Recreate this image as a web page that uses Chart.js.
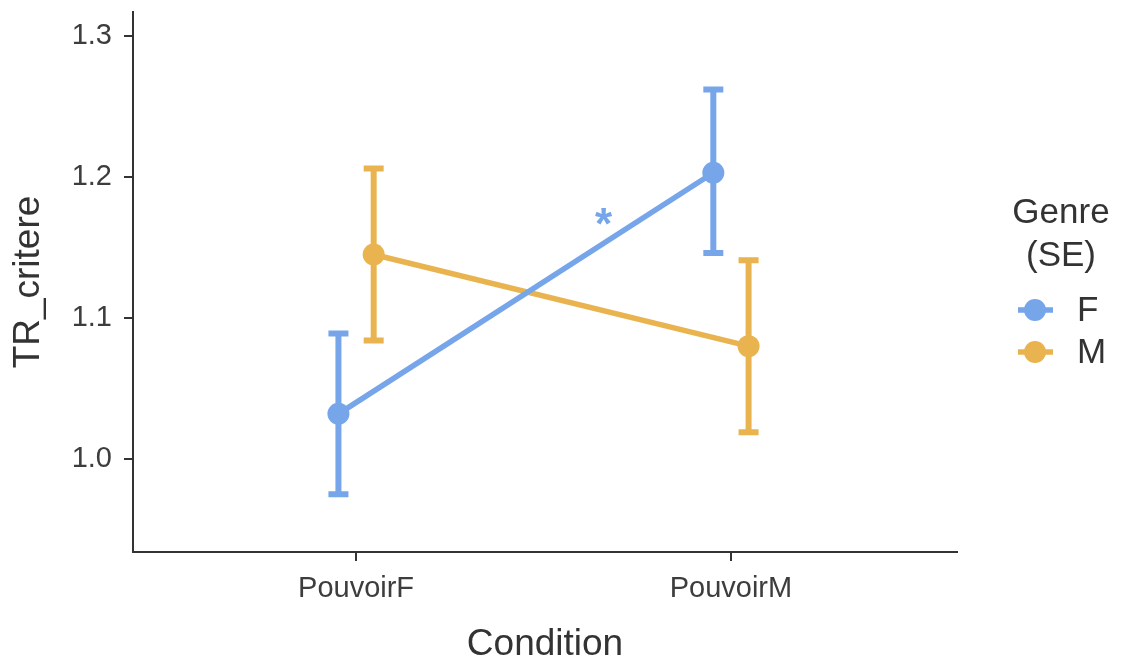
<!DOCTYPE html>
<html>
<head>
<meta charset="utf-8">
<script src="https://cdn.jsdelivr.net/npm/chart.js@4.4.0/dist/chart.umd.min.js"></script>
<style>
  html, body { margin: 0; padding: 0; background: #fff; }
  #wrap { width: 1129px; height: 662px; position: relative; }
</style>
</head>
<body>
<div id="wrap"><canvas id="canvas-1" width="1129" height="662"></canvas></div>
<script>
// data
var conditions = ['PouvoirF', 'PouvoirM'];
var genres = ['F', 'M'];
var meanF = [1.032, 1.203];
var lowF = [0.975, 1.146];
var highF = [1.089, 1.262];
var meanM = [1.145, 1.080];
var lowM = [1.084, 1.019];
var highM = [1.206, 1.141];
var yTicks = [1.0, 1.1, 1.2, 1.3];
var sigMark = { x: 1.66, y: 1.172, text: '*' };

var colors = { F: '#76a5ea', M: '#e9b44f' };
var dodge = 0.047;
var fontFam = '"Liberation Sans", Arial, sans-serif';
var ink = '#333333';
var tickInk = '#3d3d3d';

function buildPoints(means, lows, highs, shift) {
  return means.map(function (m, i) {
    return { x: i + 1 + shift, y: m, lo: lows[i], hi: highs[i] };
  });
}

var datasets = [
  { label: 'F', data: buildPoints(meanF, lowF, highF, -dodge), color: colors.F },
  { label: 'M', data: buildPoints(meanM, lowM, highM, dodge), color: colors.M }
].map(function (d) {
  return {
    label: d.label,
    data: d.data,
    borderColor: d.color,
    backgroundColor: d.color,
    pointBackgroundColor: d.color,
    pointBorderColor: d.color,
    borderWidth: 5.5,
    pointRadius: 11,
    pointBorderWidth: 0,
    tension: 0
  };
});

// error bars, drawn through the scales
var errorBars = {
  id: 'errorBars',
  beforeDatasetsDraw: function (chart) {
    var ctx = chart.ctx, xs = chart.scales.x, ys = chart.scales.y;
    ctx.save();
    chart.data.datasets.forEach(function (ds) {
      ctx.strokeStyle = ds.borderColor;
      ctx.lineWidth = 6;
      ds.data.forEach(function (p) {
        var px = xs.getPixelForValue(p.x);
        var y1 = ys.getPixelForValue(p.lo), y2 = ys.getPixelForValue(p.hi);
        ctx.beginPath();
        ctx.moveTo(px, y1); ctx.lineTo(px, y2);
        ctx.moveTo(px - 10, y1); ctx.lineTo(px + 10, y1);
        ctx.moveTo(px - 10, y2); ctx.lineTo(px + 10, y2);
        ctx.stroke();
      });
    });
    ctx.restore();
  }
};

// titles, star and legend
var decorations = {
  id: 'decorations',
  afterDraw: function (chart) {
    var ctx = chart.ctx, xs = chart.scales.x, ys = chart.scales.y, a = chart.chartArea;
    ctx.save();
    ctx.fillStyle = ink;
    ctx.textAlign = 'center';
    ctx.textBaseline = 'middle';
    ctx.font = '37px ' + fontFam;
    ctx.fillText('Condition', (a.left + a.right) / 2, 645);
    ctx.save();
    ctx.translate(29, 282);
    ctx.rotate(-Math.PI / 2);
    ctx.fillText('TR_critere', 0, 0);
    ctx.restore();

    ctx.fillStyle = colors.F;
    ctx.font = 'bold 44px ' + fontFam;
    ctx.fillText(sigMark.text, xs.getPixelForValue(sigMark.x), ys.getPixelForValue(sigMark.y) + 10);

    ctx.fillStyle = ink;
    ctx.font = '35px ' + fontFam;
    ctx.fillText('Genre', 1061, 213);
    ctx.fillText('(SE)', 1061, 256);
    genres.forEach(function (g, i) {
      var cy = 310 + i * 42;
      ctx.strokeStyle = colors[g];
      ctx.fillStyle = colors[g];
      ctx.lineWidth = 5.5;
      ctx.beginPath(); ctx.moveTo(1018, cy); ctx.lineTo(1053, cy); ctx.stroke();
      ctx.beginPath(); ctx.arc(1035, cy, 11, 0, Math.PI * 2); ctx.fill();
      ctx.fillStyle = ink;
      ctx.textAlign = 'left';
      ctx.fillText(g, 1077, cy + 1);
    });
    ctx.restore();
  }
};

var ctx = document.getElementById('canvas-1');
var chart = new Chart(ctx, {
  type: 'line',
  data: { datasets: datasets },
  options: {
    responsive: false,
    animation: false,
    layout: { padding: { top: 12, right: 172, left: 0, bottom: 0 } },
    plugins: { legend: { display: false }, tooltip: { enabled: false } },
    scales: {
      x: {
        type: 'linear',
        min: 0.405,
        max: 2.603,
        afterFit: function (s) { s.height = 110; s.paddingLeft = 0; s.paddingRight = 0; },
        afterBuildTicks: function (s) {
          s.ticks = conditions.map(function (c, i) { return { value: i + 1 }; });
        },
        ticks: {
          color: tickInk,
          font: { size: 29, family: fontFam },
          padding: 11,
          maxRotation: 0,
          callback: function (v) { return conditions[v - 1]; }
        },
        grid: { drawOnChartArea: false, tickLength: 9, color: ink, lineWidth: 2 },
        border: { display: true, color: ink, width: 2 }
      },
      y: {
        type: 'linear',
        min: 0.934,
        max: 1.317,
        afterFit: function (s) { s.width = 133; s.paddingTop = 0; s.paddingBottom = 0; },
        afterBuildTicks: function (s) {
          s.ticks = yTicks.map(function (v) { return { value: v }; });
        },
        ticks: {
          color: tickInk,
          font: { size: 29, family: fontFam },
          padding: 12,
          callback: function (v) { return v.toFixed(1); }
        },
        grid: { drawOnChartArea: false, tickLength: 9, color: ink, lineWidth: 2 },
        border: { display: true, color: ink, width: 2 }
      }
    }
  },
  plugins: [errorBars, decorations]
});
</script>
</body>
</html>
